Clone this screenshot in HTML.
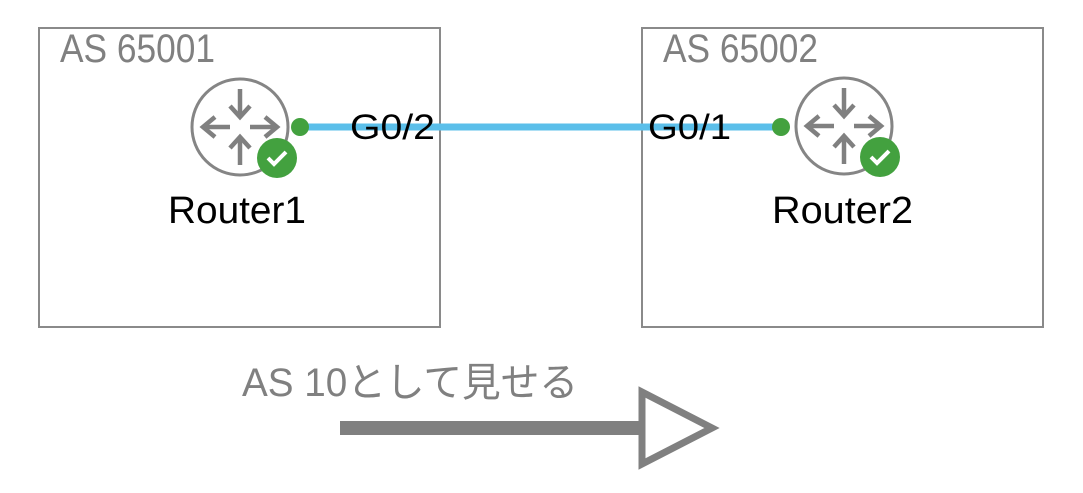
<!DOCTYPE html>
<html><head><meta charset="utf-8"><style>
html,body{margin:0;padding:0;background:#fff;}
body{width:1083px;height:488px;overflow:hidden;}
</style></head><body>
<svg width="1083" height="488" xmlns="http://www.w3.org/2000/svg">
<defs>
<g id="rt">
<circle cx="0" cy="0" r="48" fill="#fff" stroke="#858585" stroke-width="3"/>
<g stroke="#808080" stroke-width="4.5" fill="none" stroke-linejoin="miter">
<line x1="0" y1="-38" x2="0" y2="-12"/><polyline points="-10,-21 0,-10 10,-21"/>
<line x1="0" y1="38" x2="0" y2="12"/><polyline points="-10,21 0,10 10,21"/>
<line x1="-10" y1="0" x2="-36" y2="0"/><polyline points="-25,-10 -37,0 -25,10"/>
<line x1="10" y1="0" x2="36" y2="0"/><polyline points="25,-10 37,0 25,10"/>
</g>
</g>
<g id="ok">
<circle cx="0" cy="0" r="20" fill="#43a13f"/>
<polyline points="-9,0 -3,6 9,-6" fill="none" stroke="#fff" stroke-width="4"/>
</g>
</defs>
<rect x="39" y="28" width="401" height="299" fill="none" stroke="#8a8a8a" stroke-width="2"/>
<rect x="642" y="28" width="401" height="299" fill="none" stroke="#8a8a8a" stroke-width="2"/>
<g font-family="'Liberation Sans',sans-serif" fill="#808080" font-size="40">
<text x="60" y="62" textLength="155" lengthAdjust="spacingAndGlyphs">AS 65001</text>
<text x="663" y="62" textLength="155" lengthAdjust="spacingAndGlyphs">AS 65002</text>
</g>
<line x1="300" y1="127" x2="781" y2="127" stroke="#5bbfea" stroke-width="7"/>
<circle cx="300" cy="127" r="9" fill="#43a13f"/>
<circle cx="781" cy="127" r="9" fill="#43a13f"/>
<use href="#rt" x="240" y="127"/>
<use href="#ok" x="277" y="158"/>
<use href="#rt" x="844" y="126"/>
<use href="#ok" x="880" y="157"/>
<g font-family="'Liberation Sans',sans-serif" fill="#000">
<text x="350" y="139" font-size="35" textLength="85" lengthAdjust="spacingAndGlyphs">G0/2</text>
<text x="648" y="139" font-size="35" textLength="83" lengthAdjust="spacingAndGlyphs">G0/1</text>
<text x="168" y="223" font-size="38" textLength="138" lengthAdjust="spacingAndGlyphs">Router1</text>
<text x="772" y="223" font-size="38" textLength="141" lengthAdjust="spacingAndGlyphs">Router2</text>
</g>
<text x="242" y="396" font-family="'Liberation Sans','Noto Sans CJK JP',sans-serif" font-size="40" fill="#808080" textLength="336" lengthAdjust="spacingAndGlyphs">AS 10として見せる</text>
<line x1="340" y1="428" x2="644" y2="428" stroke="#808080" stroke-width="14"/>
<polygon points="642,392 712,428 642,464" fill="#fff" stroke="#808080" stroke-width="7"/>
</svg>
</body></html>
